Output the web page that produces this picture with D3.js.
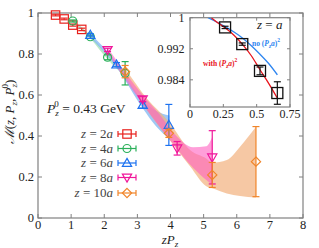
<!DOCTYPE html>
<html><head><meta charset="utf-8">
<script src="https://cdn.jsdelivr.net/npm/d3@7"></script>
<style>body{margin:0;background:#fff}svg{display:block}text{font-family:"Liberation Serif","DejaVu Serif",serif}</style>
</head><body>
<svg id="c" width="319" height="248"></svg>
<script>
// ---- data ----
const xTicks = [0,1,2,3,4,5,6,7,8];
const yTicks = [0,0.2,0.4,0.6,0.8,1];
const yTickLabels = ["0","0.2","0.4","0.6","0.8","1"];
const seriesNames = ["z = 2a","z = 4a","z = 6a","z = 8a","z = 10a"];
const seriesColors = ["#e8201c","#2bb05a","#1d72f0","#f0169a","#f0852a"];
const seriesShapes = ["square","circle","triangle","triangleDown","diamond"];
const z2aX = [0.53,0.79,1.05,1.32],  z2aY = [0.990,0.971,0.941,0.920], z2aE = [0.004,0.004,0.005,0.006];
const z4aX = [1.05,1.58,2.10,2.63],  z4aY = [0.961,0.884,0.784,0.706], z4aE = [0.005,0.008,0.012,0.057];
const z6aX = [1.58,2.37,3.16,3.95],  z6aY = [0.893,0.748,0.551,0.454], z6aE = [0.006,0.010,0.015,0.100];
const z8aX = [2.10,3.16,4.20,5.26],  z8aY = [0.820,0.580,0.340,0.296], z8aE = [0.008,0.012,0.033,0.130];
const z10aX = [2.63,3.95,5.26,6.58], z10aY = [0.714,0.413,0.210,0.275], z10aE = [0.030,0.020,0.061,0.171];
// bands: [x, lower, upper]
const band4a = [[1.05,0.955,0.966],[1.58,0.876,0.892],[2.10,0.774,0.794],[2.63,0.690,0.722]];
const band6a = [[1.58,0.880,0.900],[2.37,0.735,0.760],[3.16,0.535,0.575],[3.55,0.450,0.525],[3.97,0.385,0.500]];
const band10a = [[2.63,0.695,0.730],[3.30,0.525,0.580],[3.95,0.385,0.470],[4.60,0.250,0.330],[5.08,0.155,0.290],[5.26,0.145,0.270],[5.70,0.120,0.283],[6.10,0.107,0.348],[6.58,0.100,0.445]];
const band8a = [[2.10,0.805,0.830],[3.16,0.555,0.600],[3.65,0.450,0.510],[4.18,0.340,0.400],[4.68,0.245,0.345],[5.08,0.185,0.350],[5.26,0.160,0.395]];
// inset
const insetXTicks = [0,0.25,0.5,0.75];
const insetXTickLabels = ["0","0.25","0.5","0.75"];
const insetYTicks = [0.984,0.992,1];
const insetYTickLabels = ["0.984","0.992","1"];
const z1aX = [0.263,0.392,0.525,0.655], z1aY = [0.9975,0.9932,0.9863,0.9806], z1aE = [0.0003,0.0003,0.0010,0.0029];
const curveNo = [[0.135,1.0],[0.2,0.9989],[0.263,0.9977],[0.33,0.9963],[0.4,0.9946],[0.46,0.9928],[0.525,0.9906],[0.59,0.9882],[0.655,0.9853]];
const curveWith = [[0.16,1.0],[0.2,0.9989],[0.263,0.9974],[0.33,0.9955],[0.392,0.9932],[0.46,0.9902],[0.525,0.9866],[0.59,0.9831],[0.655,0.9793]];

// ---- drawing ----
const svg = d3.select("#c");
const x = d3.scaleLinear([0,8],[38,303]);
const y = d3.scaleLinear([0,1],[218,13]);
const frameCol = "#808080";
const txtCol = "#222";

function marker(g, shape, cx, cy, col, s){
  s = s || 4.2;
  let el;
  if(shape==="square") el = g.append("rect").attr("x",cx-s).attr("y",cy-s).attr("width",2*s).attr("height",2*s);
  else if(shape==="circle") el = g.append("circle").attr("cx",cx).attr("cy",cy).attr("r",s*0.95);
  else if(shape==="triangle") el = g.append("path").attr("d",`M${cx},${cy-s*1.1}L${cx+s*1.1},${cy+s*0.8}L${cx-s*1.1},${cy+s*0.8}Z`);
  else if(shape==="triangleDown") el = g.append("path").attr("d",`M${cx},${cy+s*1.1}L${cx+s*1.1},${cy-s*0.8}L${cx-s*1.1},${cy-s*0.8}Z`);
  else el = g.append("path").attr("d",`M${cx},${cy-s*1.1}L${cx+s*1.1},${cy}L${cx},${cy+s*1.1}L${cx-s*1.1},${cy}Z`);
  el.attr("fill","none").attr("stroke",col).attr("stroke-width",1.2);
}

// bands
const area = d3.area().x(d=>x(d[0])).y0(d=>y(d[1])).y1(d=>y(d[2])).curve(d3.curveMonotoneX);
const bandG = svg.append("g");
bandG.append("path").datum(band4a).attr("d",area).attr("fill","#7fd69a").attr("opacity",0.55);
bandG.append("path").datum(band6a).attr("d",area).attr("fill","#7fb6f2").attr("opacity",0.75);
bandG.append("path").datum(band10a).attr("d",area).attr("fill","#f2b07e").attr("opacity",0.7);
bandG.append("path").datum(band8a).attr("d",area).attr("fill","#ff5fbf").attr("opacity",0.6);

// frame
svg.append("rect").attr("x",38).attr("y",13).attr("width",265).attr("height",205)
  .attr("fill","none").attr("stroke",frameCol).attr("stroke-width",1.2);
xTicks.forEach(t=>{
  svg.append("line").attr("x1",x(t)).attr("x2",x(t)).attr("y1",218).attr("y2",214).attr("stroke",frameCol);
  svg.append("line").attr("x1",x(t)).attr("x2",x(t)).attr("y1",13).attr("y2",17).attr("stroke",frameCol);
  svg.append("text").attr("x",x(t)).attr("y",229).attr("text-anchor","middle").attr("font-size",12.5).attr("fill",txtCol).text(t);
});
yTicks.forEach((t,i)=>{
  svg.append("line").attr("x1",38).attr("x2",42).attr("y1",y(t)).attr("y2",y(t)).attr("stroke",frameCol);
  svg.append("line").attr("x1",303).attr("x2",299).attr("y1",y(t)).attr("y2",y(t)).attr("stroke",frameCol);
  svg.append("text").attr("x",34).attr("y",y(t)+4.3).attr("text-anchor","end").attr("font-size",12.5).attr("fill",txtCol).text(yTickLabels[i]);
});

// data points
const allX=[z2aX,z4aX,z6aX,z8aX,z10aX], allY=[z2aY,z4aY,z6aY,z8aY,z10aY], allE=[z2aE,z4aE,z6aE,z8aE,z10aE];
const ptG = svg.append("g");
[0,1,2,3,4].forEach(si=>{
  const col=seriesColors[si];
  allX[si].forEach((xv,j)=>{
    const cx=x(xv), cy=y(allY[si][j]), e=allE[si][j];
    const y1=y(allY[si][j]+e), y2=y(allY[si][j]-e);
    ptG.append("line").attr("x1",cx).attr("x2",cx).attr("y1",y1).attr("y2",y2).attr("stroke",col).attr("stroke-width",1.2);
    [y1,y2].forEach(yy=>ptG.append("line").attr("x1",cx-3.5).attr("x2",cx+3.5).attr("y1",yy).attr("y2",yy).attr("stroke",col).attr("stroke-width",1.2));
    marker(ptG, seriesShapes[si], cx, cy, col);
  });
});

// legend
const legY=[134,148.5,163,177.5,193];
seriesNames.forEach((n,i)=>{
  const col=seriesColors[i];
  const parts=n.split(" = ");
  const t=svg.append("text").attr("x",113).attr("y",legY[i]+4.3).attr("text-anchor","end").attr("font-size",13).attr("fill","#444");
  t.append("tspan").attr("font-style","italic").text("z");
  t.append("tspan").text(" = "+parts[1].replace("a",""));
  t.append("tspan").attr("font-style","italic").text("a");
  svg.append("line").attr("x1",118).attr("x2",136).attr("y1",legY[i]).attr("y2",legY[i]).attr("stroke",col).attr("stroke-width",1.2);
  [118,136].forEach(xx=>svg.append("line").attr("x1",xx).attr("x2",xx).attr("y1",legY[i]-3).attr("y2",legY[i]+3).attr("stroke",col).attr("stroke-width",1.2));
  marker(svg, seriesShapes[i], 127, legY[i], col);
});

// P_z^0 label
const pl=svg.append("text").attr("x",47).attr("y",113).attr("font-size",13.5).attr("fill",txtCol);
pl.append("tspan").attr("font-style","italic").text("P");
pl.append("tspan").attr("font-style","italic").attr("font-size",9).attr("dy",3).text("z");
pl.append("tspan").attr("font-size",9).attr("dx",-4.5).attr("dy",-9).text("0");
pl.append("tspan").attr("dy",6).text(" = 0.43 GeV");

// axis labels
const xl=svg.append("text").attr("x",170).attr("y",244).attr("text-anchor","middle").attr("font-size",13).attr("fill",txtCol);
xl.append("tspan").attr("font-style","italic").text("zP");
xl.append("tspan").attr("font-style","italic").attr("font-size",9).attr("dy",3).text("z");
const yl=svg.append("text").attr("transform","translate(14,112) rotate(-90)").attr("text-anchor","middle").attr("font-size",13).attr("fill",txtCol);
yl.append("tspan").attr("font-style","italic").text("ℳ");
yl.append("tspan").text("(");
yl.append("tspan").attr("font-style","italic").text("z");
yl.append("tspan").text(", ");
yl.append("tspan").attr("font-style","italic").text("P");
yl.append("tspan").attr("font-style","italic").attr("font-size",9).attr("dy",3).text("z");
yl.append("tspan").attr("dy",-3).text(", ");
yl.append("tspan").attr("font-style","italic").text("P");
yl.append("tspan").attr("font-style","italic").attr("font-size",9).attr("dy",3).text("z");
yl.append("tspan").attr("font-size",9).attr("dx",-4.5).attr("dy",-9).text("0");
yl.append("tspan").attr("dy",6).text(")");

// ---- inset ----
const xi = d3.scaleLinear([0,0.75],[190,290]);
const yi = d3.scaleLinear([0.977,1],[107,17.7]);
svg.append("rect").attr("x",190).attr("y",17.7).attr("width",100).attr("height",89.3).attr("fill","#fff").attr("stroke",frameCol).attr("stroke-width",1.2);
const ig = svg.append("g");
svg.append("clipPath").attr("id","ic").append("rect").attr("x",190).attr("y",17.7).attr("width",100).attr("height",89.3);
insetXTicks.forEach((t,i)=>{
  ig.append("line").attr("x1",xi(t)).attr("x2",xi(t)).attr("y1",107).attr("y2",104).attr("stroke",frameCol);
  ig.append("line").attr("x1",xi(t)).attr("x2",xi(t)).attr("y1",17.7).attr("y2",20.7).attr("stroke",frameCol);
  ig.append("text").attr("x",xi(t)).attr("y",118).attr("text-anchor","middle").attr("font-size",12).attr("fill",txtCol).text(insetXTickLabels[i]);
});
insetYTicks.forEach((t,i)=>{
  ig.append("line").attr("x1",190).attr("x2",193).attr("y1",yi(t)).attr("y2",yi(t)).attr("stroke",frameCol);
  ig.append("line").attr("x1",290).attr("x2",287).attr("y1",yi(t)).attr("y2",yi(t)).attr("stroke",frameCol);
  ig.append("text").attr("x",184.5).attr("y",yi(t)+4.2).attr("text-anchor","end").attr("font-size",12).attr("fill",txtCol).text(insetYTickLabels[i]);
});
const ln = d3.line().x(d=>xi(d[0])).y(d=>yi(d[1])).curve(d3.curveMonotoneX);
ig.append("path").datum(curveNo).attr("d",ln).attr("fill","none").attr("stroke","#2f86f0").attr("stroke-width",1.3).attr("clip-path","url(#ic)");
ig.append("path").datum(curveWith).attr("d",ln).attr("fill","none").attr("stroke","#e8141c").attr("stroke-width",1.3).attr("clip-path","url(#ic)");
z1aX.forEach((xv,j)=>{
  const cx=xi(xv), cy=yi(z1aY[j]), y1=yi(z1aY[j]+z1aE[j]), y2=yi(z1aY[j]-z1aE[j]);
  ig.append("line").attr("x1",cx).attr("x2",cx).attr("y1",y1).attr("y2",y2).attr("stroke","#111").attr("stroke-width",1.2);
  [y1,y2].forEach(yy=>ig.append("line").attr("x1",cx-3.5).attr("x2",cx+3.5).attr("y1",yy).attr("y2",yy).attr("stroke","#111").attr("stroke-width",1.2));
  ig.append("rect").attr("x",cx-5.5).attr("y",cy-5.5).attr("width",11).attr("height",11).attr("fill","none").attr("stroke","#111").attr("stroke-width",1.3);
});
const za=ig.append("text").attr("x",257).attr("y",28.5).attr("font-size",13).attr("fill",txtCol);
za.append("tspan").attr("font-style","italic").text("z");
za.append("tspan").text(" = ");
za.append("tspan").attr("font-style","italic").text("a");
function pzLabel(x0,y0,pre,col){
  const t=ig.append("text").attr("x",x0).attr("y",y0).attr("font-size",7.5).attr("fill",col).attr("font-weight","bold");
  t.append("tspan").text(pre+" (");
  t.append("tspan").attr("font-style","italic").text("P");
  t.append("tspan").attr("font-style","italic").attr("font-size",5.5).attr("dy",2).text("z");
  t.append("tspan").attr("font-style","italic").attr("dy",-2).text("a");
  t.append("tspan").text(")");
  t.append("tspan").attr("font-size",5.5).attr("dy",-4).text("2");
}
pzLabel(252,46,"no","#2f86f0");
pzLabel(203,65.5,"with","#e8141c");
</script>
</body></html>
